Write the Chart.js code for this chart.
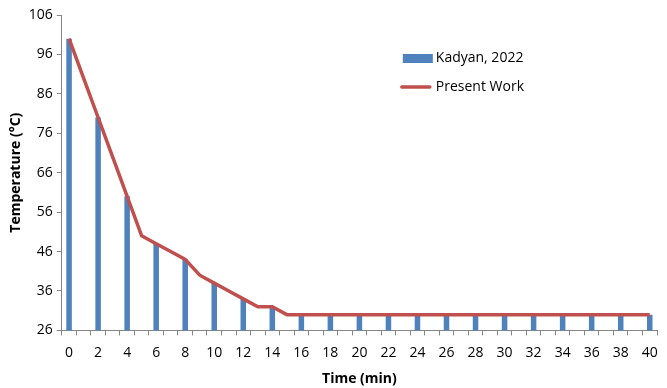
<!DOCTYPE html>
<html>
<head>
<meta charset="utf-8">
<script src="https://cdn.jsdelivr.net/npm/chart.js@4.4.1/dist/chart.umd.min.js"></script>
<style>
  html, body { margin: 0; padding: 0; background: #fff; }
  #wrap { width: 667px; height: 388px; }
</style>
</head>
<body>
<div id="wrap"><canvas id="tempChart"></canvas></div>
<script>
// time in minutes, one category per minute
const times = [];
for (let t = 0; t <= 40; t++) times.push(t);

// Kadyan, 2022 (measured every 2 min)
const kadyan = [100, null, 80, null, 60, null, 48, null, 44, null, 38, null, 34, null, 32, null,
  30, null, 30, null, 30, null, 30, null, 30, null, 30, null, 30, null, 30, null,
  30, null, 30, null, 30, null, 30, null, 30];

// present work
const presentWork = [100, 90, 80, 70, 60, 50, 48, 46, 44, 40, 38, 36, 34, 32, 32, 30,
  30, 30, 30, 30, 30, 30, 30, 30, 30, 30, 30, 30, 30, 30, 30, 30,
  30, 30, 30, 30, 30, 30, 30, 30, 30];

const yTicks = [26, 36, 46, 56, 66, 76, 86, 96, 106];

const FONT = '"Open Sans", "Liberation Sans", sans-serif';
const axisGray = '#868686';

// legend drawn inside the plot area, like the original
const insideLegend = {
  id: 'insideLegend',
  afterDraw(chart) {
    const ctx = chart.ctx;
    const area = chart.chartArea;
    const x = area.left + 339;
    let y = area.top + 43;
    ctx.save();
    ctx.font = '14px ' + FONT;
    ctx.textBaseline = 'middle';
    chart.data.datasets.forEach(ds => {
      if (ds.type === 'line') {
        ctx.strokeStyle = ds.borderColor;
        ctx.lineWidth = 3.5;
        ctx.lineCap = 'round';
        ctx.beginPath();
        ctx.moveTo(x + 1, y);
        ctx.lineTo(x + 29, y);
        ctx.stroke();
      } else {
        ctx.fillStyle = ds.backgroundColor;
        ctx.fillRect(x + 2, y - 4, 30, 9);
      }
      ctx.fillStyle = '#000';
      ctx.fillText(ds.label, x + 35, y);
      y += 29;
    });
    ctx.restore();
  }
};

const ctx = document.getElementById('tempChart').getContext('2d');

const data = {
  labels: times,
  datasets: [
    {
      type: 'bar',
      label: 'Kadyan, 2022',
      data: kadyan,
      backgroundColor: '#4F81BD',
      barPercentage: 0.38,
      categoryPercentage: 1,
      order: 1
    },
    {
      type: 'line',
      label: 'Present Work',
      data: presentWork,
      borderColor: '#C0504D',
      borderWidth: 3.5,
      pointRadius: 0,
      tension: 0,
      order: 0
    }
  ]
};

const config = {
  data: data,
  options: {
    responsive: true,
    maintainAspectRatio: false,
    animation: false,
    layout: { padding: { top: 15, right: 10, left: 8, bottom: 1 } },
    plugins: {
      legend: { display: false },
      tooltip: { enabled: false }
    },
    scales: {
      x: {
        type: 'category',
        offset: true,
        border: { color: axisGray, width: 1 },
        grid: {
          offset: true,
          drawOnChartArea: false,
          drawTicks: true,
          tickLength: 5,
          color: axisGray
        },
        ticks: {
          autoSkip: false,
          maxRotation: 0,
          color: '#000',
          font: { family: FONT, size: 14 },
          padding: 9,
          callback: function(val, i) {
            const t = times[i];
            return t % 2 === 0 ? String(t) : '';
          }
        },
        title: {
          display: true,
          text: 'Time (min)',
          color: '#000',
          font: { family: FONT, size: 14, weight: 'bold' },
          padding: { top: 0, bottom: 0 }
        }
      },
      y: {
        min: 26,
        max: 106,
        afterBuildTicks: axis => { axis.ticks = yTicks.map(v => ({ value: v })); },
        border: { color: axisGray, width: 1 },
        grid: {
          drawOnChartArea: false,
          drawTicks: true,
          tickLength: 5,
          color: axisGray
        },
        ticks: {
          color: '#000',
          font: { family: FONT, size: 14 },
          padding: 4
        },
        title: {
          display: true,
          text: 'Temperature (\u00B0C)',
          color: '#000',
          font: { family: FONT, size: 14, weight: 'bold' },
          padding: { top: 0, bottom: 0 }
        }
      }
    }
  },
  plugins: [insideLegend]
};

const tempChart = new Chart(ctx, config);
</script>
</body>
</html>
